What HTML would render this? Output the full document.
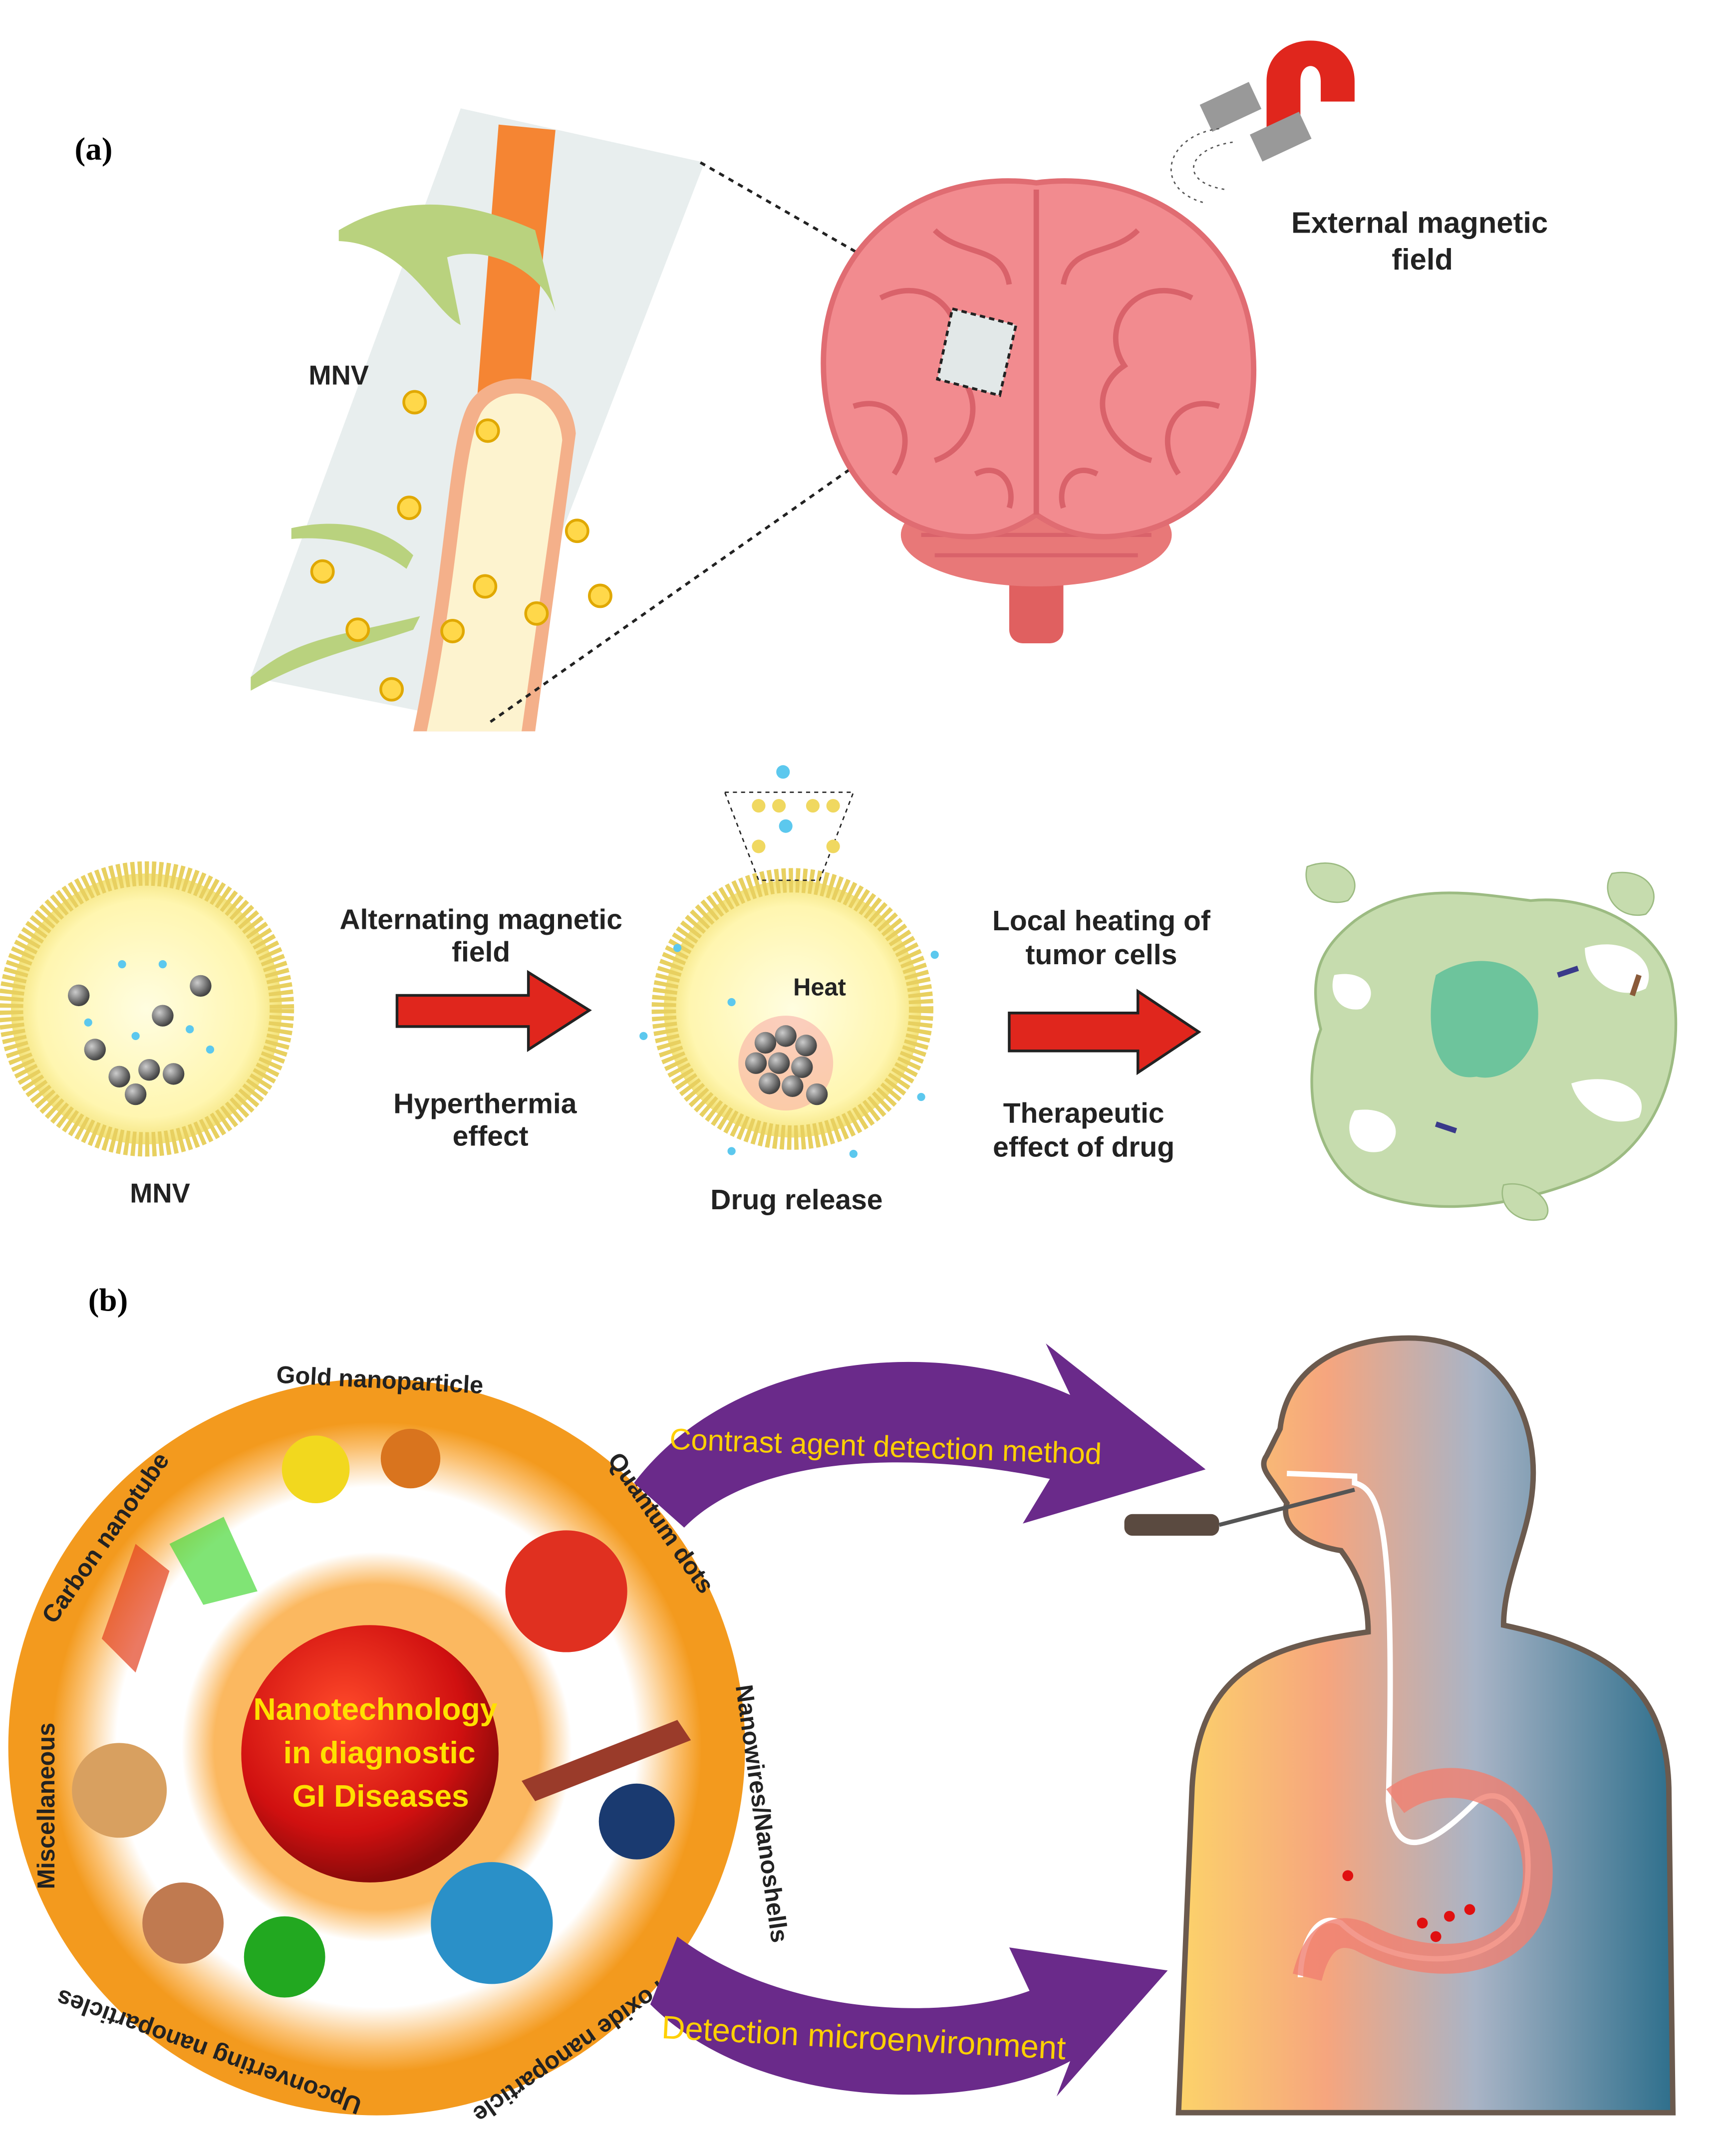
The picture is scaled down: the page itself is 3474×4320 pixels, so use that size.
<!DOCTYPE html>
<html><head><meta charset="utf-8"><style>
html,body{margin:0;padding:0;background:#fff}
svg{display:block}
text{font-family:"Liberation Sans",Arial,sans-serif;font-weight:bold}
</style></head><body>
<svg width="3474" height="4320" viewBox="0 0 1280 1592" xmlns="http://www.w3.org/2000/svg">
<defs>
<radialGradient id="lip" cx="50%" cy="50%" r="50%"><stop offset="0" stop-color="#fffde0"/><stop offset="0.8" stop-color="#fff6b0"/><stop offset="1" stop-color="#f3e27a"/></radialGradient>
<radialGradient id="org" cx="50%" cy="50%" r="50%"><stop offset="0.5" stop-color="#fbb860"/><stop offset="0.6" stop-color="#fff"/><stop offset="0.8" stop-color="#fff"/><stop offset="0.92" stop-color="#fbc070"/><stop offset="1" stop-color="#f39a1e"/></radialGradient>
<radialGradient id="red" cx="40%" cy="35%" r="65%"><stop offset="0" stop-color="#ff4a2a"/><stop offset="0.7" stop-color="#d01010"/><stop offset="1" stop-color="#8a0a0a"/></radialGradient>
<linearGradient id="body" x1="0" x2="1" y1="0" y2="0"><stop offset="0" stop-color="#fcd36a"/><stop offset="0.3" stop-color="#f6a57e"/><stop offset="0.6" stop-color="#a9b4c6"/><stop offset="1" stop-color="#2e6f8c"/></linearGradient>
<radialGradient id="ball" cx="35%" cy="35%" r="65%"><stop offset="0" stop-color="#ccc"/><stop offset="1" stop-color="#444"/></radialGradient>
</defs>

<text x="55" y="118" font-size="24" style="font-family:'Liberation Serif',serif">(a)</text>
<polygon points="340,80 520,120 360,535 185,500" fill="#e8eeee"/>
<path d="M368,92 L410,96 L390,300 L352,296 Z" fill="#f58533"/>
<path d="M305,540 C330,420 330,330 345,300 C360,270 420,270 425,320 L395,540 Z" fill="#f4b08a"/>
<path d="M315,540 C340,420 340,335 355,305 C368,282 412,285 415,325 L385,540 Z" fill="#fdf3cf"/>
<path d="M250,170 C300,140 350,150 395,170 L410,230 C400,200 360,180 330,190 L340,240 C320,230 300,180 250,178Z" fill="#b9d27e"/>
<path d="M215,390 C260,380 290,395 305,410 L300,420 C280,405 250,395 215,398Z" fill="#b9d27e"/>
<path d="M185,500 C220,470 250,470 310,455 L305,465 C260,480 230,485 185,510Z" fill="#b9d27e"/>
<g fill="#ffd84a" stroke="#e0a800" stroke-width="2">
<circle cx="306" cy="297" r="8"/><circle cx="360" cy="318" r="8"/><circle cx="302" cy="375" r="8"/><circle cx="426" cy="392" r="8"/><circle cx="238" cy="422" r="8"/><circle cx="358" cy="433" r="8"/><circle cx="443" cy="440" r="8"/><circle cx="264" cy="465" r="8"/><circle cx="334" cy="466" r="8"/><circle cx="396" cy="453" r="8"/><circle cx="289" cy="509" r="8"/></g>
<text x="250" y="284" font-size="20" text-anchor="middle" fill="#222">MNV</text>
<line x1="517" y1="120" x2="705" y2="228" stroke="#222" stroke-width="2" stroke-dasharray="4,4"/>
<line x1="362" y1="533" x2="705" y2="292" stroke="#222" stroke-width="2" stroke-dasharray="4,4"/>
<rect x="745" y="390" width="40" height="85" rx="10" fill="#e06060"/>
<ellipse cx="765" cy="395" rx="100" ry="38" fill="#e87878"/>
<g fill="none" stroke="#d9626a" stroke-width="3"><path d="M680,395 H850"/><path d="M690,410 H840"/></g>
<path d="M765,135 C840,125 920,170 925,260 C930,330 895,385 830,395 C800,400 780,390 765,380 C750,390 730,400 700,395 C640,385 605,330 608,260 C612,170 690,125 765,135Z" fill="#f28b8f" stroke="#e06c72" stroke-width="4"/>
<g fill="none" stroke="#d9626a" stroke-width="4">
<path d="M765,140 L765,380"/><path d="M650,220 C690,200 720,240 700,270 C730,290 720,330 690,340"/><path d="M880,220 C840,200 810,240 830,270 C800,290 815,330 850,340"/><path d="M690,170 C710,190 740,180 745,210"/><path d="M840,170 C820,190 790,180 785,210"/><path d="M630,300 C660,290 680,320 660,350"/><path d="M900,300 C870,290 850,320 870,350"/><path d="M720,350 C740,340 750,360 745,375"/><path d="M810,350 C790,340 780,360 785,375"/></g>
<polygon points="703,228 750,240 738,292 692,280" fill="#e2e8e8" stroke="#222" stroke-width="2" stroke-dasharray="4,3"/>
<path d="M935,100 L935,60 C935,20 1000,20 1000,60 L1000,75 L975,75 L975,60 C975,45 960,45 960,60 L960,100 Z" fill="#e0261d"/>
<rect x="925" y="90" width="40" height="22" fill="#999" transform="rotate(-25 945 100)"/>
<rect x="888" y="68" width="40" height="22" fill="#999" transform="rotate(-25 908 78)"/>
<g fill="none" stroke="#555" stroke-dasharray="2,3"><path d="M900,95 C860,100 850,140 890,150"/><path d="M910,105 C875,110 870,135 905,140"/></g>
<text x="1048" y="172" font-size="22" text-anchor="middle" fill="#222">External magnetic</text>
<text x="1050" y="199" font-size="22" text-anchor="middle" fill="#222">field</text>

<circle cx="108" cy="745" r="100" fill="url(#lip)" stroke="#e8d060" stroke-width="18" stroke-dasharray="3,2"/>
<g fill="url(#ball)"><circle cx="58" cy="735" r="8"/><circle cx="148" cy="728" r="8"/><circle cx="120" cy="750" r="8"/><circle cx="70" cy="775" r="8"/><circle cx="88" cy="795" r="8"/><circle cx="110" cy="790" r="8"/><circle cx="128" cy="793" r="8"/><circle cx="100" cy="808" r="8"/></g>
<g fill="#5cc8ee"><circle cx="90" cy="712" r="3"/><circle cx="120" cy="712" r="3"/><circle cx="65" cy="755" r="3"/><circle cx="155" cy="775" r="3"/><circle cx="100" cy="765" r="3"/><circle cx="140" cy="760" r="3"/></g>
<text x="118" y="888" font-size="20" text-anchor="middle" fill="#222">MNV</text>
<text x="355" y="686" font-size="21" text-anchor="middle" fill="#222">Alternating magnetic</text>
<text x="355" y="710" font-size="21" text-anchor="middle" fill="#222">field</text>
<polygon points="293,735 390,735 390,718 435,746 390,775 390,758 293,758" fill="#e0261d" stroke="#222" stroke-width="2"/>
<text x="358" y="822" font-size="21" text-anchor="middle" fill="#222">Hyperthermia</text>
<text x="362" y="846" font-size="21" text-anchor="middle" fill="#222">effect</text>

<circle cx="585" cy="745" r="95" fill="url(#lip)" stroke="#e8d060" stroke-width="18" stroke-dasharray="3,2"/>
<polygon points="535,585 630,585 605,650 560,650" fill="none" stroke="#222" stroke-dasharray="3,3"/>
<g fill="#f0d860"><circle cx="560" cy="595" r="5"/><circle cx="575" cy="595" r="5"/><circle cx="600" cy="595" r="5"/><circle cx="615" cy="595" r="5"/><circle cx="560" cy="625" r="5"/><circle cx="615" cy="625" r="5"/></g>
<circle cx="578" cy="570" r="5" fill="#5cc8ee"/><circle cx="580" cy="610" r="5" fill="#5cc8ee"/>
<circle cx="580" cy="785" r="35" fill="#f8a0a0" opacity="0.5"/>
<g fill="url(#ball)"><circle cx="565" cy="770" r="8"/><circle cx="580" cy="765" r="8"/><circle cx="595" cy="772" r="8"/><circle cx="558" cy="785" r="8"/><circle cx="575" cy="785" r="8"/><circle cx="592" cy="788" r="8"/><circle cx="568" cy="800" r="8"/><circle cx="585" cy="802" r="8"/><circle cx="603" cy="808" r="8"/></g>
<g fill="#5cc8ee"><circle cx="475" cy="765" r="3"/><circle cx="690" cy="705" r="3"/><circle cx="680" cy="810" r="3"/><circle cx="540" cy="850" r="3"/><circle cx="630" cy="852" r="3"/><circle cx="500" cy="700" r="3"/><circle cx="540" cy="740" r="3"/></g>
<text x="605" y="735" font-size="18" text-anchor="middle" fill="#222">Heat</text>
<text x="588" y="893" font-size="21" text-anchor="middle" fill="#222">Drug release</text>

<text x="813" y="687" font-size="21" text-anchor="middle" fill="#222">Local heating of</text>
<text x="813" y="712" font-size="21" text-anchor="middle" fill="#222">tumor cells</text>
<polygon points="745,748 840,748 840,732 885,762 840,792 840,776 745,776" fill="#e0261d" stroke="#222" stroke-width="2"/>
<text x="800" y="829" font-size="21" text-anchor="middle" fill="#222">Therapeutic</text>
<text x="800" y="854" font-size="21" text-anchor="middle" fill="#222">effect of drug</text>
<path d="M1000,680 C1040,650 1090,660 1130,665 C1180,660 1230,690 1235,730 C1245,790 1220,850 1170,870 C1120,890 1060,900 1010,880 C970,860 960,800 975,760 C965,720 975,700 1000,680Z" fill="#c6dcae" stroke="#9cbb82" stroke-width="2"/>
<g fill="#fff"><path d="M1170,700 C1200,690 1225,710 1215,730 C1195,740 1170,725 1170,700Z"/><path d="M985,720 C1010,715 1020,735 1005,745 C990,748 980,735 985,720Z"/><path d="M1160,800 C1190,790 1220,805 1210,825 C1190,835 1165,820 1160,800Z"/><path d="M1000,820 C1030,815 1040,840 1020,850 C1000,855 990,835 1000,820Z"/></g>
<path d="M1060,720 C1090,700 1130,710 1135,740 C1140,780 1110,800 1090,795 C1060,800 1050,760 1060,720Z" fill="#6dc49c"/>
<path d="M965,640 C990,630 1010,650 995,665 C980,670 960,660 965,640Z" fill="#c6dcae" stroke="#9cbb82"/>
<path d="M1190,645 C1215,640 1230,660 1215,675 C1195,680 1180,660 1190,645Z" fill="#c6dcae" stroke="#9cbb82"/>
<path d="M1110,875 C1130,870 1150,890 1140,900 C1120,905 1105,890 1110,875Z" fill="#c6dcae" stroke="#9cbb82"/>
<g fill="none" stroke-width="4"><path d="M1150,720 l15,-5" stroke="#3a3a8a"/><path d="M1060,830 l15,5" stroke="#3a3a8a"/><path d="M1210,720 l-5,15" stroke="#8a5a3a"/></g>

<text x="65" y="968" font-size="24" style="font-family:'Liberation Serif',serif">(b)</text>
<circle cx="278" cy="1290" r="272" fill="#f39a1e"/>
<circle cx="278" cy="1290" r="240" fill="url(#org)"/>
<circle cx="273" cy="1295" r="95" fill="url(#red)"/>
<g font-size="23" fill="#ffe000" text-anchor="middle" style="font-family:'Liberation Sans Narrow','Liberation Sans',sans-serif"><text x="277" y="1270">Nanotechnology</text><text x="280" y="1302">in diagnostic</text><text x="281" y="1334">GI Diseases</text></g>
<circle cx="233" cy="1085" r="25" fill="#f2d81e"/><circle cx="303" cy="1077" r="22" fill="#d9741e"/>
<circle cx="418" cy="1175" r="45" fill="#e03020"/><circle cx="470" cy="1345" r="28" fill="#1a3a70"/>
<circle cx="88" cy="1322" r="35" fill="#d8a060"/><circle cx="135" cy="1420" r="30" fill="#c07a50"/><circle cx="210" cy="1445" r="30" fill="#22a820"/>
<circle cx="363" cy="1420" r="45" fill="#2a90c8"/>
<polygon points="75,1210 100,1140 125,1160 100,1235" fill="#e34020" opacity="0.7"/>
<polygon points="125,1140 165,1120 190,1175 150,1185" fill="#4ad83a" opacity="0.7"/>
<polygon points="385,1315 500,1270 510,1285 395,1330" fill="#9a3b2a"/>
<g font-size="18" fill="#222">
<text x="280" y="1025" text-anchor="middle" transform="rotate(3 280 1025)">Gold nanoparticle</text>
<text x="0" y="0" transform="translate(40,1200) rotate(-55)">Carbon nanotube</text>
<text x="0" y="0" transform="translate(448,1078) rotate(55)">Quantum dots</text>
<text x="0" y="0" transform="translate(543,1245) rotate(82)">Nanowires/Nanoshells</text>
<text x="0" y="0" transform="translate(40,1395) rotate(-90)">Miscellaneous</text>
<text x="0" y="0" transform="translate(268,1550) rotate(200)">Upconverting nanoparticles</text>
<text x="0" y="0" transform="translate(510,1445) rotate(145)">Iron oxide nanoparticle</text>
</g>
<path d="M468,1095 C540,1000 690,985 790,1030 L772,992 L890,1085 L755,1125 L775,1092 C680,1072 560,1072 505,1128 Z" fill="#6a2a8a"/>
<text x="0" y="0" font-size="22" fill="#ffd000" transform="translate(494,1070) rotate(2)" style="font-weight:normal">Contrast agent detection method</text>
<path d="M480,1480 C560,1560 720,1560 790,1522 L780,1548 L862,1455 L745,1438 L760,1470 C700,1492 580,1490 500,1430 Z" fill="#6a2a8a"/>
<text x="0" y="0" font-size="24" fill="#ffd000" transform="translate(488,1505) rotate(3)" style="font-weight:normal">Detection microenvironment</text>
<path d="M870,1560 L880,1320 C885,1230 940,1215 1010,1205 C1010,1185 1005,1165 990,1145 C960,1140 945,1125 950,1110 L940,1095 C935,1088 930,1082 935,1075 L945,1055 C950,1010 990,988 1040,988 C1110,988 1140,1050 1130,1110 C1125,1140 1110,1170 1110,1200 C1180,1215 1230,1240 1232,1320 L1235,1560 Z" fill="url(#body)" stroke="#6b5a4e" stroke-width="4"/>
<path d="M950,1088 L1000,1090 L1000,1095 C1020,1100 1030,1130 1025,1330 C1030,1380 1060,1360 1090,1330 C1120,1310 1140,1370 1120,1420 C1090,1460 1020,1450 990,1420 C970,1410 960,1440 960,1460" fill="none" stroke="#fff" stroke-width="4"/>
<path d="M1030,1330 C1070,1300 1140,1320 1135,1390 C1130,1450 1060,1460 1005,1430 C980,1420 970,1440 965,1460" fill="none" stroke="#f08070" stroke-width="22" opacity="0.8"/>
<rect x="830" y="1118" width="70" height="16" rx="6" fill="#5a4a40"/>
<line x1="900" y1="1126" x2="1000" y2="1100" stroke="#555" stroke-width="3"/>
<g fill="#e01010"><circle cx="995" cy="1385" r="4"/><circle cx="1050" cy="1420" r="4"/><circle cx="1070" cy="1415" r="4"/><circle cx="1060" cy="1430" r="4"/><circle cx="1085" cy="1410" r="4"/></g>
</svg>
</body></html>
